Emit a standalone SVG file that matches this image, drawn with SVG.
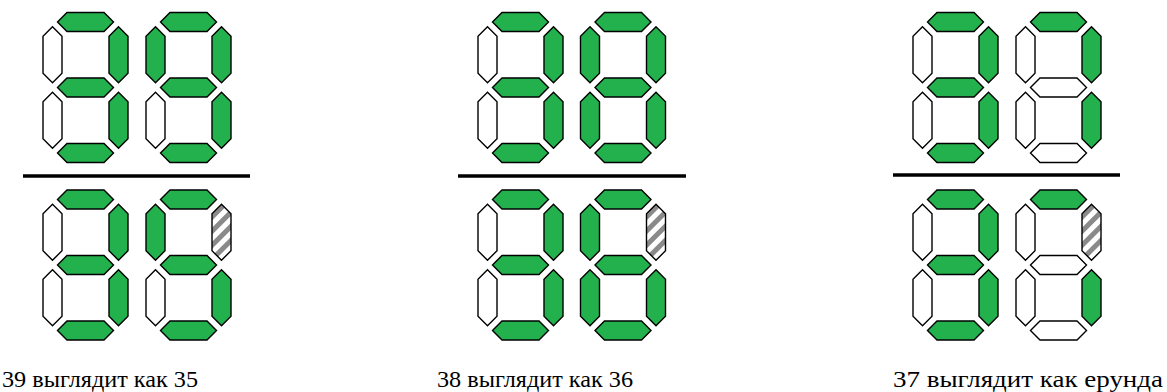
<svg xmlns="http://www.w3.org/2000/svg" width="1167" height="392" viewBox="0 0 1167 392">
<style>
.s{stroke:#000;stroke-width:1.4;stroke-linejoin:miter}
.on{fill:#23b14d}
.off{fill:#fff}
.hat{fill:url(#hatch)}
.bar{stroke:#000;stroke-width:3.5}
</style>
<defs>
<path id="h" d="M-28,0 L-18.5,-9.5 L18.5,-9.5 L28,0 L18.5,9.5 L-18.5,9.5Z"/>
<path id="v" d="M0,-28 L9.5,-18.5 L9.5,18.5 L0,28 L-9.5,18.5 L-9.5,-18.5Z"/>
<pattern id="hatch" patternUnits="userSpaceOnUse" width="10" height="10" patternTransform="rotate(45)">
<rect width="10" height="10" fill="#fff"/>
<rect width="5" height="10" fill="#8a8a8a"/>
</pattern>
</defs>

<!-- Group 1 -->
<g id="g1-top-d1" transform="translate(52.5,22)">
<use href="#h" x="33" y="0" class="s on"/><use href="#v" x="66" y="32.75" class="s on"/><use href="#v" x="66" y="98.25" class="s on"/><use href="#h" x="33" y="131" class="s on"/><use href="#v" x="0" y="98.25" class="s off"/><use href="#v" x="0" y="32.75" class="s off"/><use href="#h" x="33" y="65.5" class="s on"/>
</g>
<g id="g1-top-d2" transform="translate(155.5,22)">
<use href="#h" x="33" y="0" class="s on"/><use href="#v" x="66" y="32.75" class="s on"/><use href="#v" x="66" y="98.25" class="s on"/><use href="#h" x="33" y="131" class="s on"/><use href="#v" x="0" y="98.25" class="s off"/><use href="#v" x="0" y="32.75" class="s on"/><use href="#h" x="33" y="65.5" class="s on"/>
</g>
<g id="g1-bot-d1" transform="translate(52.5,199.5)">
<use href="#h" x="33" y="0" class="s on"/><use href="#v" x="66" y="32.75" class="s on"/><use href="#v" x="66" y="98.25" class="s on"/><use href="#h" x="33" y="131" class="s on"/><use href="#v" x="0" y="98.25" class="s off"/><use href="#v" x="0" y="32.75" class="s off"/><use href="#h" x="33" y="65.5" class="s on"/>
</g>
<g id="g1-bot-d2" transform="translate(155.5,199.5)">
<use href="#h" x="33" y="0" class="s on"/><use href="#v" x="66" y="32.75" class="s hat"/><use href="#v" x="66" y="98.25" class="s on"/><use href="#h" x="33" y="131" class="s on"/><use href="#v" x="0" y="98.25" class="s off"/><use href="#v" x="0" y="32.75" class="s on"/><use href="#h" x="33" y="65.5" class="s on"/>
</g>
<line id="g1-bar" class="bar" x1="23" y1="176" x2="250" y2="176"/>
<text id="g1-cap" font-family="Liberation Serif, serif" font-size="24" x="2" y="387" textLength="196" lengthAdjust="spacingAndGlyphs">39 выглядит как 35</text>

<!-- Group 2 -->
<g id="g2-top-d1" transform="translate(487.5,22)">
<use href="#h" x="33" y="0" class="s on"/><use href="#v" x="66" y="32.75" class="s on"/><use href="#v" x="66" y="98.25" class="s on"/><use href="#h" x="33" y="131" class="s on"/><use href="#v" x="0" y="98.25" class="s off"/><use href="#v" x="0" y="32.75" class="s off"/><use href="#h" x="33" y="65.5" class="s on"/>
</g>
<g id="g2-top-d2" transform="translate(590,22)">
<use href="#h" x="33" y="0" class="s on"/><use href="#v" x="66" y="32.75" class="s on"/><use href="#v" x="66" y="98.25" class="s on"/><use href="#h" x="33" y="131" class="s on"/><use href="#v" x="0" y="98.25" class="s on"/><use href="#v" x="0" y="32.75" class="s on"/><use href="#h" x="33" y="65.5" class="s on"/>
</g>
<g id="g2-bot-d1" transform="translate(487.5,199.5)">
<use href="#h" x="33" y="0" class="s on"/><use href="#v" x="66" y="32.75" class="s on"/><use href="#v" x="66" y="98.25" class="s on"/><use href="#h" x="33" y="131" class="s on"/><use href="#v" x="0" y="98.25" class="s off"/><use href="#v" x="0" y="32.75" class="s off"/><use href="#h" x="33" y="65.5" class="s on"/>
</g>
<g id="g2-bot-d2" transform="translate(590,199.5)">
<use href="#h" x="33" y="0" class="s on"/><use href="#v" x="66" y="32.75" class="s hat"/><use href="#v" x="66" y="98.25" class="s on"/><use href="#h" x="33" y="131" class="s on"/><use href="#v" x="0" y="98.25" class="s on"/><use href="#v" x="0" y="32.75" class="s on"/><use href="#h" x="33" y="65.5" class="s on"/>
</g>
<line id="g2-bar" class="bar" x1="458" y1="176" x2="686" y2="176"/>
<text id="g2-cap" font-family="Liberation Serif, serif" font-size="24" x="437" y="387" textLength="196" lengthAdjust="spacingAndGlyphs">38 выглядит как 36</text>

<!-- Group 3 -->
<g id="g3-top-d1" transform="translate(922.5,22)">
<use href="#h" x="33" y="0" class="s on"/><use href="#v" x="66" y="32.75" class="s on"/><use href="#v" x="66" y="98.25" class="s on"/><use href="#h" x="33" y="131" class="s on"/><use href="#v" x="0" y="98.25" class="s off"/><use href="#v" x="0" y="32.75" class="s off"/><use href="#h" x="33" y="65.5" class="s on"/>
</g>
<g id="g3-top-d2" transform="translate(1025.5,22)">
<use href="#h" x="33" y="0" class="s on"/><use href="#v" x="66" y="32.75" class="s on"/><use href="#v" x="66" y="98.25" class="s on"/><use href="#h" x="33" y="131" class="s off"/><use href="#v" x="0" y="98.25" class="s off"/><use href="#v" x="0" y="32.75" class="s off"/><use href="#h" x="33" y="65.5" class="s off"/>
</g>
<g id="g3-bot-d1" transform="translate(922.5,199.5)">
<use href="#h" x="33" y="0" class="s on"/><use href="#v" x="66" y="32.75" class="s on"/><use href="#v" x="66" y="98.25" class="s on"/><use href="#h" x="33" y="131" class="s on"/><use href="#v" x="0" y="98.25" class="s off"/><use href="#v" x="0" y="32.75" class="s off"/><use href="#h" x="33" y="65.5" class="s on"/>
</g>
<g id="g3-bot-d2" transform="translate(1025.5,199.5)">
<use href="#h" x="33" y="0" class="s on"/><use href="#v" x="66" y="32.75" class="s hat"/><use href="#v" x="66" y="98.25" class="s on"/><use href="#h" x="33" y="131" class="s off"/><use href="#v" x="0" y="98.25" class="s off"/><use href="#v" x="0" y="32.75" class="s off"/><use href="#h" x="33" y="65.5" class="s off"/>
</g>
<line id="g3-bar" class="bar" x1="893" y1="175" x2="1120" y2="175"/>
<text id="g3-cap" font-family="Liberation Serif, serif" font-size="24" x="893" y="387" textLength="270" lengthAdjust="spacingAndGlyphs">37 выглядит как ерунда</text>
</svg>
